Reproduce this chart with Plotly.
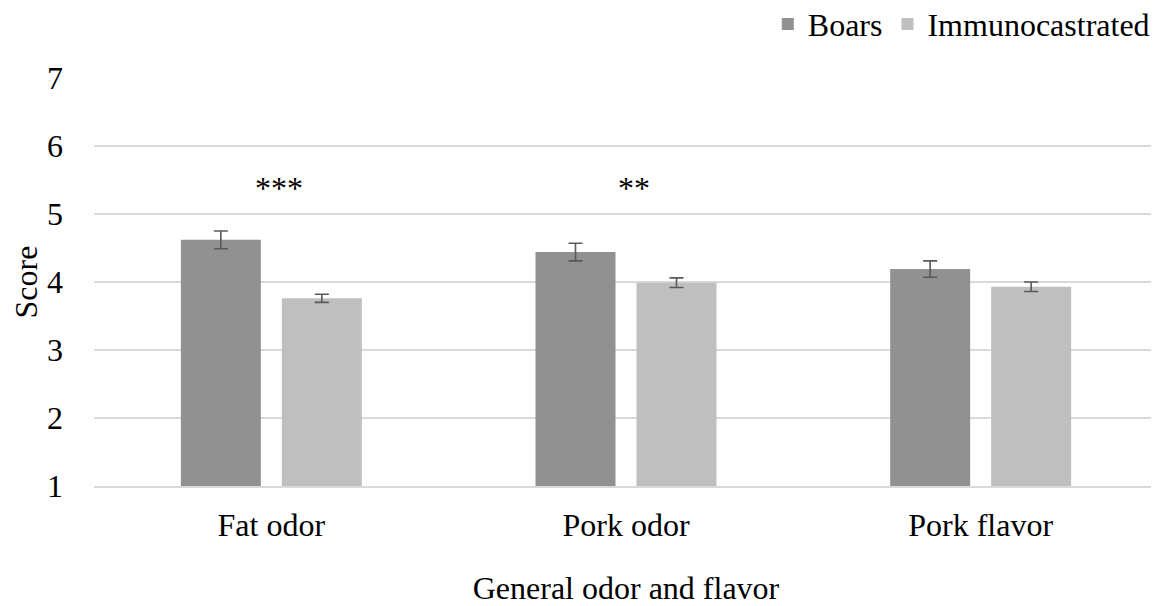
import plotly.graph_objects as go

categories = ["Fat odor", "Pork odor", "Pork flavor"]
boars = [4.62, 4.44, 4.19]
boars_err = [0.13, 0.13, 0.12]
immuno = [3.76, 3.99, 3.93]
immuno_err = [0.06, 0.07, 0.07]
sig_labels = ["***", "**", ""]
sig_y = [5.38, 5.38, 5.38]

FONT = "Liberation Serif, Times New Roman, serif"
FS = 32

fig = go.Figure()
fig.add_trace(go.Bar(
    name="Boars", x=categories, y=boars,
    marker=dict(color="#919191", line=dict(width=0)),
    error_y=dict(type="data", array=boars_err, color="#595959", thickness=1.6, width=7),
))
fig.add_trace(go.Bar(
    name="Immunocastrated", x=categories, y=immuno,
    marker=dict(color="#BFBFBF", line=dict(width=0)),
    error_y=dict(type="data", array=immuno_err, color="#595959", thickness=1.6, width=7),
))

for c, s, yy in zip(categories, sig_labels, sig_y):
    if s:
        fig.add_annotation(x=c, y=yy, text=s, showarrow=False, xshift=8,
                           font=dict(family=FONT, size=FS, color="#000000"))

fig.update_layout(
    width=1151, height=598,
    paper_bgcolor="white", plot_bgcolor="white",
    margin=dict(l=86, r=1, t=70, b=120, autoexpand=False),
    barmode="group", bargap=0.4305, bargroupgap=0.208,
    font=dict(family=FONT, size=FS, color="#000000"),
    showlegend=True,
    legend=dict(orientation="h", x=0.997, xanchor="right", y=1.132, yanchor="middle",
                font=dict(family=FONT, size=FS), traceorder="normal",
                itemwidth=30, bgcolor="rgba(0,0,0,0)"),
    xaxis=dict(
        showgrid=False, showline=True, linecolor="#D9D9D9", linewidth=2,
        ticks="", ticklabelstandoff=10, automargin=False,
        title=dict(text="General odor and flavor", standoff=36, font=dict(family=FONT, size=FS)),
    ),
    yaxis=dict(
        range=[1, 7], tickvals=[1, 2, 3, 4, 5, 6, 7],
        showgrid=True, gridcolor="#D9D9D9", gridwidth=2,
        zeroline=False, showline=False, ticks="", ticklabelstandoff=30, automargin=False,
        title=dict(text="Score", standoff=6, font=dict(family=FONT, size=FS)),
    ),
)

fig.write_html("out.html")
